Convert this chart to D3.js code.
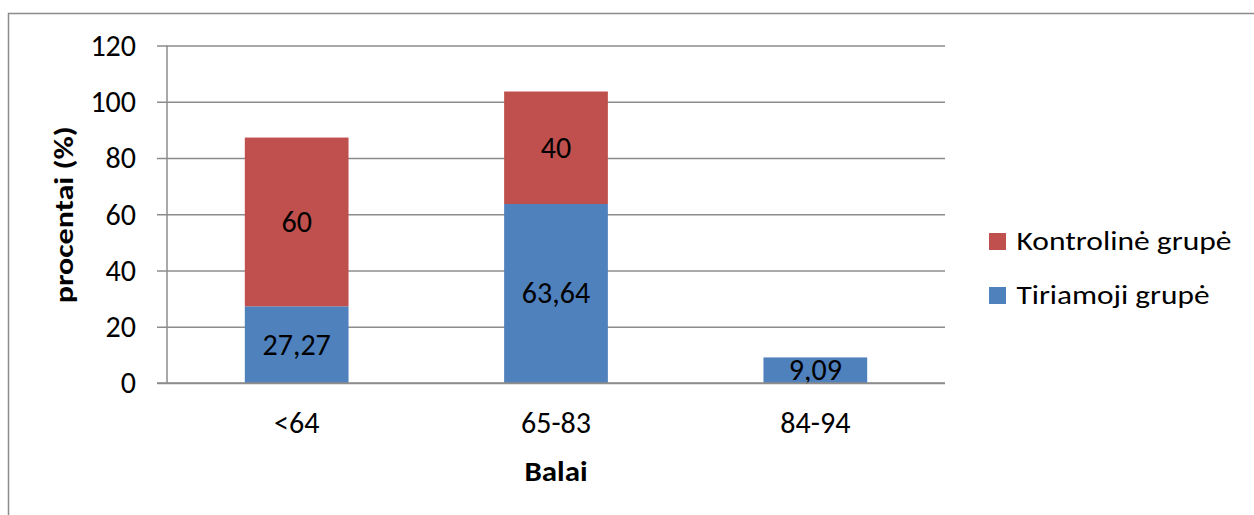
<!DOCTYPE html>
<html>
<head>
<meta charset="utf-8">
<script src="https://cdn.jsdelivr.net/npm/d3@7"></script>
<style>
  html, body { margin: 0; padding: 0; background: #fff; }
  svg { display: block; }
  text { font-family: Carlito, Calibri, Lato, "Open Sans", sans-serif; fill: #000; }
</style>
</head>
<body>
<svg id="chart" width="1254" height="515"></svg>
<script>
// Score bands and the share (%) of each group falling into them
const categories = ["<64", "65-83", "84-94"];
const tiriamoji = [27.27, 63.64, 9.09];
const kontroline = [60, 40, 0];
const seriesNames = ["Kontrolinė grupė", "Tiriamoji grupė"];
const yTicks = [0, 20, 40, 60, 80, 100, 120];
const yTitle = "procentai (%)";
const xTitle = "Balai";

const colors = { tiriamoji: "#4F81BD", kontroline: "#C0504D" };
const gridColor = "#8c8c8c";

const svg = d3.select("#chart");
const W = 1254, H = 515;
const plot = { left: 167, right: 945, top: 45.5, bottom: 383 };

// outer chart frame
svg.append("rect")
  .attr("x", 8.5).attr("y", 13.5)
  .attr("width", W + 10).attr("height", H + 10)
  .attr("fill", "none").attr("stroke", gridColor).attr("stroke-width", 1.5);

const x = d3.scaleBand()
  .domain(categories)
  .range([plot.left, plot.right])
  .paddingInner(0.6)
  .paddingOuter(0.3);

const y = d3.scaleLinear()
  .domain([0, 120])
  .range([plot.bottom, plot.top]);

// horizontal gridlines with tick labels
const yAxis = d3.axisLeft(y)
  .tickValues(yTicks)
  .tickFormat(d3.format("d"))
  .tickPadding(0);

const gy = svg.append("g")
  .attr("transform", `translate(${plot.right},0)`)
  .call(yAxis);
gy.select(".domain").remove();
gy.selectAll(".tick line")
  .attr("x1", -(plot.right - plot.left) - 10).attr("x2", 0)
  .attr("stroke", gridColor).attr("stroke-width", 1.5);
gy.selectAll(".tick text")
  .attr("x", 136 - plot.right)
  .attr("dy", "0.33em")
  .attr("text-anchor", "end")
  .style("font-size", "30px");

// vertical axis line
svg.append("line")
  .attr("x1", plot.left).attr("x2", plot.left)
  .attr("y1", y(120)).attr("y2", y(0))
  .attr("stroke", gridColor).attr("stroke-width", 1.5);

// stacked data
const stacked = d3.stack().keys(["tiriamoji", "kontroline"])(
  categories.map((c, i) => ({ cat: c, tiriamoji: tiriamoji[i], kontroline: kontroline[i] }))
);

const groups = svg.append("g").selectAll("g")
  .data(stacked).join("g")
  .attr("fill", d => colors[d.key]);

groups.selectAll("rect")
  .data(d => d.filter(s => s[1] - s[0] > 0))
  .join("rect")
  .attr("x", d => x(d.data.cat))
  .attr("width", x.bandwidth())
  .attr("y", d => y(d[1]))
  .attr("height", d => y(d[0]) - y(d[1]));

// value labels centred in each segment
const fmt = v => String(v).replace(".", ",");
groups.selectAll("text")
  .data(d => d.filter(s => s[1] - s[0] > 0).map(s => ({ s, key: d.key })))
  .join("text")
  .attr("x", d => x(d.s.data.cat) + x.bandwidth() / 2)
  .attr("y", d => y((d.s[0] + d.s[1]) / 2))
  .attr("dy", "0.33em")
  .attr("text-anchor", "middle")
  .style("font-size", "30px")
  .style("fill", "#000")
  .text(d => fmt(d.s.data[d.key]));

// bottom axis line and category labels
svg.append("line")
  .attr("x1", plot.left - 10).attr("x2", plot.right)
  .attr("y1", y(0)).attr("y2", y(0))
  .attr("stroke", gridColor).attr("stroke-width", 1.5);

const xAxis = d3.axisBottom(x).tickSize(0).tickPadding(0);
const gx = svg.append("g").attr("transform", `translate(0,${plot.bottom})`).call(xAxis);
gx.select(".domain").remove();
gx.selectAll(".tick text")
  .attr("y", 50).attr("dy", 0)
  .style("font-size", "30px");

// axis titles
svg.append("text")
  .attr("transform", `translate(73,${(plot.top + plot.bottom) / 2 + 0.5}) rotate(-90)`)
  .attr("text-anchor", "middle")
  .attr("textLength", 177).attr("lengthAdjust", "spacingAndGlyphs")
  .style("font-size", "26px").style("font-weight", "bold")
  .text(yTitle);

svg.append("text")
  .attr("x", (plot.left + plot.right) / 2)
  .attr("y", 481)
  .attr("text-anchor", "middle")
  .attr("textLength", 63).attr("lengthAdjust", "spacingAndGlyphs")
  .style("font-size", "28px").style("font-weight", "bold")
  .text(xTitle);

// legend
const legendData = [
  { name: seriesNames[0], color: colors.kontroline, len: 215 },
  { name: seriesNames[1], color: colors.tiriamoji, len: 193 }
];
const legend = svg.append("g").selectAll("g")
  .data(legendData).join("g")
  .attr("transform", (d, i) => `translate(989,${233 + i * 54})`);
legend.append("rect")
  .attr("width", 17).attr("height", 17)
  .attr("fill", d => d.color);
legend.append("text")
  .attr("x", 27.5).attr("y", 16.5)
  .attr("textLength", d => d.len).attr("lengthAdjust", "spacingAndGlyphs")
  .style("font-size", "27px")
  .text(d => d.name);
</script>
</body>
</html>
